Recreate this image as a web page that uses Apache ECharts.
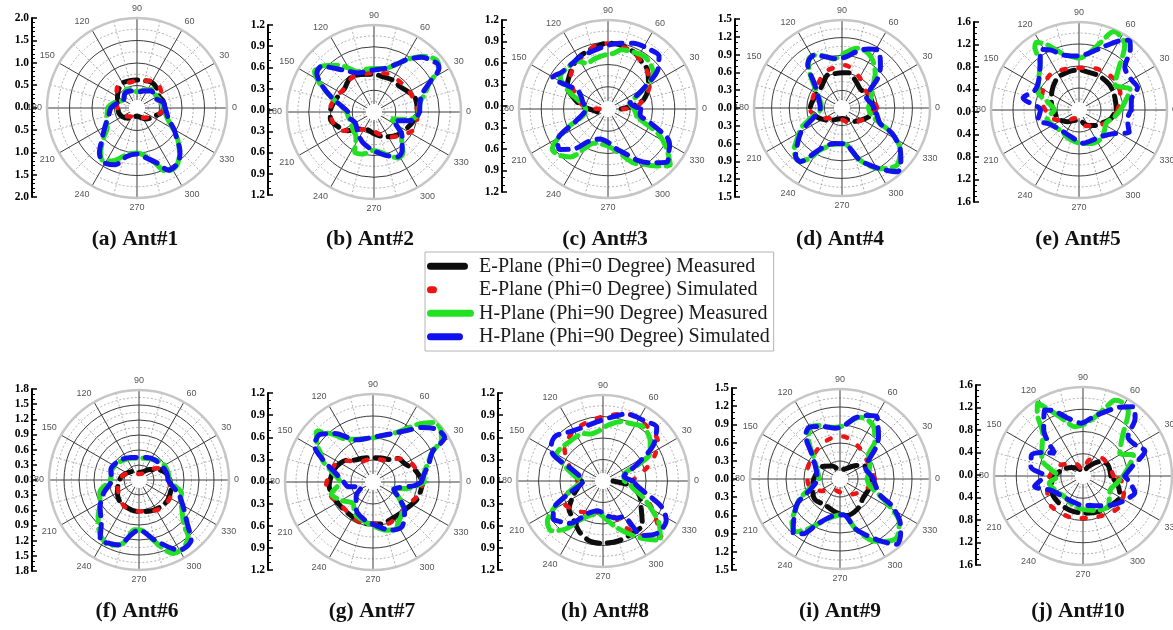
<!DOCTYPE html>
<html>
<head>
<meta charset="utf-8">
<script src="https://cdn.jsdelivr.net/npm/echarts/dist/echarts.min.js"></script>
<style>
  html, body { margin: 0; padding: 0; background: #fff; }
  #chart { width: 1173px; height: 630px; }
</style>
</head>
<body>
<div id="chart"></div>
<script>
// ---- panel captions and radial scales ----
const panelTitles = ['(a) Ant#1', '(b) Ant#2', '(c) Ant#3', '(d) Ant#4', '(e) Ant#5',
                     '(f) Ant#6', '(g) Ant#7', '(h) Ant#8', '(i) Ant#9', '(j) Ant#10'];
const radialMax  = [2.0, 1.2, 1.2, 1.5, 1.6, 1.8, 1.2, 1.2, 1.5, 1.6];
const radialStep = [0.5, 0.3, 0.3, 0.3, 0.4, 0.3, 0.3, 0.3, 0.3, 0.4];
const angleStep = 30;

const seriesNames = [
  'E-Plane (Phi=0 Degree) Measured',
  'E-Plane (Phi=0 Degree) Simulated',
  'H-Plane (Phi=90 Degree) Measured',
  'H-Plane (Phi=90 Degree) Simulated'
];

// ---- radiation patterns: [angle in degrees, gain] ----
const ant1EMeas = [[0,0.62],[15,0.6],[30,0.55],[45,0.62],[60,0.66],[75,0.63],[90,0.62],[105,0.63],[120,0.64],[135,0.58],[150,0.5],[165,0.45],[180,0.42],[195,0.42],[210,0.38],[230,0.3],[250,0.22],[270,0.18],[290,0.22],[310,0.32],[325,0.38],[335,0.42],[345,0.52],[360,0.62]];
const ant1ESim  = [[0,0.6],[20,0.6],[43,0.69],[60,0.7],[90,0.6],[115,0.6],[135,0.63],[155,0.5],[177,0.44],[200,0.38],[230,0.25],[255,0.17],[270,0.15],[300,0.25],[333,0.41],[350,0.55],[360,0.6]];
const ant1HMeas = [[0,0.6],[15,0.55],[35,0.5],[51,0.53],[70,0.42],[90,0.36],[105,0.42],[118,0.48],[135,0.4],[150,0.36],[165,0.5],[180,0.65],[195,0.69],[205,0.75],[214,0.8],[222,1.0],[230,1.25],[236,1.39],[245,1.3],[255,1.1],[262,1.02],[270,1.0],[280,1.08],[287,1.24],[295,1.56],[305,1.55],[315,1.33],[322,1.15],[329,0.95],[342,0.7],[352,0.62],[360,0.6]];
const ant1HSim  = [[0,0.62],[12,0.6],[30,0.45],[50,0.5],[70,0.4],[90,0.35],[110,0.4],[130,0.42],[148,0.35],[165,0.45],[180,0.58],[195,0.65],[210,0.82],[222,1.05],[230,1.3],[238,1.42],[249,1.35],[258,1.1],[270,1.02],[280,1.12],[290,1.3],[297,1.55],[307,1.52],[315,1.35],[323,1.1],[330,0.95],[340,0.75],[352,0.66],[360,0.62]];

const ant2EMeas = [[0,0.6],[18,0.6],[30,0.55],[45,0.5],[59,0.51],[75,0.5],[90,0.52],[110,0.55],[126,0.57],[141,0.52],[160,0.55],[178,0.6],[189,0.61],[200,0.55],[215,0.45],[231,0.3],[250,0.26],[270,0.3],[295,0.38],[315,0.45],[329,0.49],[345,0.55],[360,0.6]];
const ant2ESim  = [[0,0.6],[15,0.58],[32,0.56],[50,0.55],[70,0.56],[90,0.54],[110,0.55],[125,0.56],[141,0.52],[160,0.57],[178,0.61],[195,0.58],[211,0.5],[230,0.32],[255,0.24],[280,0.3],[300,0.4],[320,0.5],[338,0.61],[360,0.6]];
const ant2HMeas = [[0,0.62],[12,0.65],[20,0.75],[28,0.87],[34,1.08],[40,1.12],[49,1.02],[58,0.85],[64,0.74],[76,0.62],[90,0.6],[100,0.6],[112,0.6],[120,0.7],[128,0.82],[138,0.95],[146,0.99],[152,0.85],[161,0.62],[170,0.45],[180,0.38],[191,0.36],[205,0.35],[220,0.38],[234,0.42],[244,0.61],[255,0.6],[269,0.53],[285,0.6],[298,0.72],[306,0.68],[314,0.55],[322,0.48],[330,0.35],[339,0.26],[348,0.5],[355,0.6],[360,0.62]];
const ant2HSim  = [[0,0.63],[12,0.65],[20,0.7],[28,0.87],[34,1.08],[37,1.1],[44,1.05],[49,1.0],[58,0.85],[64,0.74],[76,0.62],[90,0.58],[100,0.57],[112,0.58],[125,0.7],[139,0.96],[146,0.95],[152,0.83],[161,0.62],[170,0.45],[180,0.36],[191,0.36],[210,0.3],[234,0.37],[250,0.45],[269,0.53],[285,0.62],[298,0.7],[306,0.66],[315,0.55],[322,0.48],[335,0.3],[348,0.55],[360,0.63]];

const ant3EMeas = [[0,0.18],[8,0.35],[15,0.5],[30,0.63],[45,0.75],[54,0.78],[65,0.84],[80,0.88],[90,0.89],[100,0.86],[112,0.82],[122,0.79],[137,0.7],[151,0.63],[165,0.45],[175,0.33],[185,0.2],[195,0.15]];
const ant3ESim  = [[0,0.2],[5,0.39],[20,0.55],[32,0.67],[50,0.76],[70,0.85],[95,0.89],[120,0.77],[140,0.66],[160,0.45],[175,0.31],[180,0.08]];
const ant3HMeas = [[346,0.4],[0,0.35],[15,0.3],[25,0.45],[38,0.78],[48,0.84],[56,0.86],[66,0.84],[77,0.82],[85,0.75],[93,0.73],[105,0.7],[115,0.68],[123,0.77],[135,0.78],[146,0.78],[155,0.6],[165,0.4],[180,0.3],[195,0.35],[205,0.6],[216,0.93],[224,0.9],[232,0.82],[240,0.6],[247,0.5],[258,0.48],[270,0.5],[285,0.62],[295,0.8],[303,0.89],[311,1.02],[318,1.13],[326,0.95],[334,0.75],[340,0.5],[346,0.4]];
const ant3HSim  = [[0,0.44],[15,0.31],[28,0.5],[38,0.85],[46,0.99],[55,0.98],[69,0.95],[80,0.9],[90,0.86],[100,0.82],[110,0.8],[118,0.8],[130,0.78],[142,0.8],[150,0.86],[149,0.47],[165,0.35],[180,0.3],[200,0.45],[212,0.8],[220,0.85],[230,0.7],[239,0.51],[255,0.42],[270,0.45],[282,0.55],[293,0.67],[300,0.8],[308,0.92],[318,1.07],[325,1.0],[329,0.97],[334,0.89],[342,0.6],[350,0.44],[360,0.44]];

const ant4EMeas = [[0,0.54],[15,0.52],[30,0.49],[45,0.45],[60,0.5],[79,0.61],[90,0.6],[105,0.6],[115,0.61],[135,0.5],[156,0.5],[180,0.54],[200,0.45],[225,0.3],[250,0.2],[270,0.18],[290,0.2],[310,0.3],[330,0.4],[345,0.5],[360,0.54]];
const ant4ESim  = [[0,0.6],[20,0.55],[37,0.5],[60,0.6],[86,0.73],[100,0.7],[115,0.68],[135,0.58],[156,0.53],[184,0.54],[210,0.35],[238,0.21],[270,0.2],[300,0.3],[326,0.38],[345,0.5],[360,0.6]];
const ant4HMeas = [[0,0.45],[15,0.5],[30,0.6],[38,0.68],[45,0.8],[52,0.9],[60,1.0],[68,1.05],[76,1.05],[86,0.95],[100,0.85],[110,0.95],[118,1.02],[125,1.0],[133,0.8],[145,0.55],[160,0.4],[180,0.35],[195,0.5],[205,0.75],[211,0.86],[222,1.1],[232,1.15],[238,1.0],[242,0.82],[255,0.65],[273,0.61],[289,0.94],[302,1.22],[307,1.29],[314,1.35],[324,1.23],[333,0.96],[338,0.7],[348,0.5],[360,0.45]];
const ant4HSim  = [[0,0.55],[10,0.5],[22,0.45],[32,0.55],[40,0.8],[47,0.96],[53,1.08],[58,1.16],[66,1.1],[75,1.0],[85,0.88],[95,0.84],[108,0.92],[118,1.02],[128,0.95],[140,0.6],[160,0.42],[180,0.37],[198,0.5],[210,0.8],[220,1.0],[226,1.14],[232,1.16],[242,0.79],[258,0.62],[273,0.61],[289,0.94],[302,1.22],[311,1.44],[318,1.35],[324,1.23],[333,0.96],[338,0.7],[350,0.6],[360,0.55]];

const ant5EMeas = [[0,0.68],[10,0.68],[25,0.7],[40,0.72],[60,0.72],[78,0.71],[90,0.73],[105,0.72],[124,0.7],[145,0.6],[165,0.52],[185,0.45],[205,0.4],[225,0.3],[250,0.2],[270,0.18],[295,0.3],[315,0.4],[329,0.47],[345,0.6],[360,0.68]];
const ant5ESim  = [[0,0.7],[15,0.78],[34,0.86],[50,0.84],[65,0.82],[80,0.78],[100,0.77],[115,0.8],[130,0.83],[150,0.75],[167,0.7],[182,0.6],[197,0.52],[220,0.3],[243,0.17],[270,0.2],[295,0.32],[316,0.4],[335,0.55],[358,0.7]];
const ant5HMeas = [[0,0.75],[10,0.85],[22,1.0],[35,0.8],[45,1.0],[55,1.45],[62,1.55],[66,1.56],[72,1.3],[80,1.05],[90,0.94],[100,1.0],[108,1.1],[115,1.29],[122,1.45],[125,1.4],[130,1.1],[140,0.95],[156,0.82],[165,0.6],[180,0.45],[194,0.6],[210,0.55],[230,0.5],[250,0.55],[270,0.6],[290,0.65],[308,0.66],[320,0.6],[335,0.55],[348,0.65],[360,0.75]];
const ant5HSim  = [[0,0.95],[11,0.97],[21,1.14],[30,1.1],[43,1.14],[50,1.45],[54,1.57],[60,1.45],[71,1.19],[80,1.05],[90,0.98],[106,1.04],[115,1.2],[122,1.3],[133,1.04],[145,0.9],[156,0.88],[168,1.04],[180,0.7],[194,0.77],[205,0.6],[225,0.5],[250,0.5],[265,0.55],[277,0.61],[295,0.6],[308,0.62],[325,0.75],[336,1.0],[345,0.92],[352,0.9],[360,0.95]];

const ant6EMeas = [[0,0.62],[15,0.55],[30,0.42],[45,0.3],[60,0.2],[90,0.15],[120,0.2],[150,0.28],[170,0.36],[190,0.42],[210,0.5],[230,0.58],[256,0.62],[272,0.63],[290,0.66],[310,0.69],[325,0.7],[348,0.66],[360,0.62]];
const ant6ESim  = [[0,0.6],[30,0.47],[45,0.3],[60,0.15],[90,0.12],[130,0.2],[170,0.36],[200,0.45],[240,0.6],[272,0.63],[295,0.68],[312,0.72],[335,0.7],[360,0.6]];
const ant6HMeas = [[0,0.6],[15,0.6],[35,0.58],[55,0.5],[75,0.45],[88,0.43],[105,0.45],[125,0.5],[145,0.55],[160,0.58],[180,0.57],[197,0.82],[210,0.9],[222,1.1],[235,1.35],[246,1.43],[256,1.3],[265,1.0],[272,1.0],[282,1.2],[295,1.62],[303,1.62],[311,1.5],[315,1.27],[325,1.05],[335,0.92],[343,0.89],[352,0.7],[360,0.6]];
const ant6HSim  = [[0,0.58],[7,0.58],[25,0.55],[52,0.51],[70,0.48],[90,0.45],[110,0.48],[135,0.55],[160,0.6],[180,0.55],[200,0.75],[215,0.95],[229,1.15],[237,1.43],[245,1.4],[253,1.36],[262,1.1],[270,1.0],[285,1.25],[300,1.62],[311,1.59],[318,1.3],[328,1.05],[340,0.85],[352,0.65],[360,0.58]];

const ant7EMeas = [[0,0.68],[15,0.6],[30,0.5],[43,0.47],[56,0.37],[70,0.35],[90,0.33],[110,0.35],[130,0.39],[141,0.47],[160,0.55],[185,0.6],[200,0.58],[220,0.55],[240,0.55],[259,0.58],[280,0.58],[302,0.56],[320,0.58],[340,0.65],[360,0.68]];
const ant7ESim  = [[0,0.68],[15,0.62],[32,0.56],[45,0.45],[62,0.34],[90,0.32],[124,0.33],[140,0.45],[153,0.56],[170,0.6],[184,0.64],[200,0.6],[216,0.54],[240,0.55],[259,0.58],[288,0.6],[305,0.58],[325,0.56],[345,0.65],[360,0.68]];
const ant7HMeas = [[0,0.7],[8,0.7],[18,0.78],[27,0.91],[32,1.1],[38,1.17],[44,1.17],[52,1.0],[60,0.82],[69,0.7],[80,0.64],[90,0.6],[99,0.6],[110,0.62],[123,0.7],[130,0.85],[138,1.04],[146,0.92],[152,0.8],[157,0.75],[168,0.55],[180,0.45],[196,0.59],[210,0.5],[227,0.4],[240,0.5],[258,0.55],[270,0.6],[285,0.68],[295,0.72],[302,0.65],[310,0.6],[318,0.55],[330,0.4],[340,0.27],[350,0.5],[360,0.7]];
const ant7HSim  = [[0,0.66],[8,0.7],[18,0.8],[27,0.91],[32,1.15],[40,1.12],[48,1.0],[56,0.85],[65,0.74],[76,0.66],[90,0.61],[99,0.6],[112,0.62],[128,0.84],[138,0.97],[148,0.94],[156,0.75],[165,0.55],[180,0.4],[190,0.35],[205,0.17],[220,0.3],[240,0.45],[258,0.53],[275,0.6],[290,0.7],[302,0.73],[310,0.66],[318,0.58],[328,0.42],[340,0.3],[355,0.57],[360,0.66]];

const ant8EMeas = [[180,0.3],[190,0.33],[205,0.45],[220,0.62],[230,0.66],[245,0.78],[258,0.86],[270,0.87],[285,0.86],[300,0.84],[312,0.82],[325,0.65],[338,0.55],[350,0.4],[360,0.14]];
const ant8ESim  = [[0,0.4],[20,0.7],[35,0.94],[50,0.98],[71,0.99],[90,0.9],[117,0.82],[140,0.7],[165,0.45],[185,0.35],[205,0.64],[230,0.55],[260,0.45],[284,0.49],[301,0.86],[316,1.13],[330,0.8],[345,0.55],[360,0.4]];
const ant8HMeas = [[0,0.3],[15,0.3],[25,0.55],[30,0.75],[40,0.86],[53,0.94],[62,0.9],[74,0.86],[85,0.78],[95,0.7],[105,0.68],[113,0.72],[122,0.72],[130,0.72],[140,0.74],[150,0.75],[160,0.55],[170,0.4],[180,0.3],[195,0.45],[208,0.75],[216,0.96],[224,1.0],[232,0.85],[240,0.62],[251,0.5],[262,0.46],[273,0.52],[285,0.66],[296,0.82],[305,0.98],[314,1.15],[322,1.0],[330,0.78],[338,0.6],[345,0.45],[352,0.38],[360,0.3]];
const ant8HSim  = [[0,0.42],[12,0.3],[25,0.5],[35,0.85],[45,1.06],[55,1.02],[71,0.99],[82,0.9],[96,0.83],[110,0.8],[122,0.82],[136,0.91],[145,0.88],[152,0.79],[160,0.45],[172,0.3],[180,0.28],[200,0.5],[210,0.8],[217,0.87],[226,0.8],[232,0.75],[245,0.5],[260,0.42],[275,0.48],[290,0.55],[299,0.57],[306,0.94],[316,1.05],[328,1.04],[336,0.9],[345,0.6],[352,0.48],[360,0.42]];

const ant9EMeas = [[0,0.5],[15,0.48],[27,0.47],[40,0.35],[60,0.2],[90,0.15],[120,0.25],[149,0.39],[165,0.4],[185,0.45],[205,0.5],[220,0.54],[240,0.5],[260,0.55],[280,0.62],[300,0.58],[320,0.5],[347,0.51],[360,0.5]];
const ant9ESim  = [[0,0.58],[20,0.55],[40,0.55],[60,0.62],[86,0.71],[100,0.7],[115,0.66],[135,0.6],[158,0.57],[175,0.55],[194,0.52],[215,0.35],[238,0.21],[270,0.22],[300,0.3],[323,0.38],[345,0.5],[360,0.58]];
const ant9HMeas = [[0,0.45],[15,0.5],[30,0.58],[40,0.62],[47,0.85],[55,1.0],[63,1.08],[72,1.08],[82,0.95],[92,0.86],[105,0.9],[113,0.97],[120,0.99],[128,0.85],[140,0.58],[160,0.4],[180,0.35],[197,0.52],[206,0.75],[212,0.85],[222,1.08],[230,1.15],[237,1.0],[243,0.85],[258,0.65],[275,0.6],[288,0.89],[300,1.2],[307,1.3],[314,1.36],[324,1.22],[331,0.95],[338,0.7],[348,0.5],[360,0.45]];
const ant9HSim  = [[0,0.56],[10,0.5],[22,0.46],[32,0.55],[42,0.82],[48,0.96],[55,1.1],[60,1.21],[68,1.14],[76,1.05],[85,0.9],[95,0.85],[108,0.92],[120,1.0],[128,0.93],[140,0.6],[160,0.42],[180,0.38],[198,0.5],[210,0.82],[221,1.02],[229,1.19],[236,1.1],[243,0.85],[260,0.62],[275,0.6],[288,0.89],[303,1.23],[311,1.44],[318,1.36],[324,1.24],[333,0.96],[338,0.72],[350,0.6],[360,0.56]];

const ant10EMeas = [[0,0.5],[24,0.49],[40,0.4],[60,0.2],[90,0.08],[120,0.15],[144,0.26],[165,0.4],[185,0.55],[204,0.62],[225,0.65],[250,0.66],[273,0.67],[295,0.7],[315,0.73],[331,0.76],[345,0.65],[360,0.5]];
const ant10ESim  = [[0,0.55],[20,0.5],[44,0.46],[70,0.3],[90,0.1],[120,0.25],[155,0.46],[180,0.6],[204,0.7],[224,0.79],[261,0.77],[290,0.78],[320,0.86],[348,0.76],[360,0.55]];
const ant10HMeas = [[0,0.72],[10,0.82],[22,0.98],[32,0.78],[45,1.0],[55,1.42],[62,1.5],[67,1.48],[72,1.28],[80,1.05],[90,0.92],[100,0.9],[108,1.05],[116,1.3],[122,1.54],[126,1.4],[134,1.04],[145,0.9],[158,0.8],[168,0.6],[180,0.45],[192,0.62],[210,0.55],[230,0.5],[250,0.55],[270,0.6],[290,0.66],[309,0.71],[320,0.62],[335,0.55],[348,0.62],[360,0.72]];
const ant10HSim  = [[0,0.75],[11,0.9],[22,1.2],[30,1.1],[41,1.07],[48,1.4],[54,1.54],[62,1.4],[74,1.17],[82,1.05],[92,0.95],[106,1.1],[114,1.28],[120,1.37],[130,1.1],[141,0.65],[150,0.85],[158,1.0],[170,0.95],[180,0.7],[192,0.89],[205,0.62],[225,0.52],[250,0.5],[270,0.53],[285,0.55],[300,0.62],[320,0.78],[335,0.92],[342,0.98],[352,0.85],[360,0.75]];

const antennaData = [
  [ant1EMeas, ant1ESim, ant1HMeas, ant1HSim],
  [ant2EMeas, ant2ESim, ant2HMeas, ant2HSim],
  [ant3EMeas, ant3ESim, ant3HMeas, ant3HSim],
  [ant4EMeas, ant4ESim, ant4HMeas, ant4HSim],
  [ant5EMeas, ant5ESim, ant5HMeas, ant5HSim],
  [ant6EMeas, ant6ESim, ant6HMeas, ant6HSim],
  [ant7EMeas, ant7ESim, ant7HMeas, ant7HSim],
  [ant8EMeas, ant8ESim, ant8HMeas, ant8HSim],
  [ant9EMeas, ant9ESim, ant9HMeas, ant9HSim],
  [ant10EMeas, ant10ESim, ant10HMeas, ant10HSim]
];

// ---- page layout (pixels): polar centre/radius, side scale, caption ----
const panelLayout = [
  { cx: 137,  cy: 108, r: 90, ax: 32,  top: 18,  bottom: 197, tx: 135,  ty: 228 },
  { cx: 374,  cy: 112, r: 87, ax: 268, top: 25,  bottom: 195, tx: 370,  ty: 228 },
  { cx: 608,  cy: 109, r: 89, ax: 502, top: 20,  bottom: 192, tx: 605,  ty: 228 },
  { cx: 842,  cy: 108, r: 88, ax: 735, top: 19,  bottom: 197, tx: 840,  ty: 228 },
  { cx: 1079, cy: 110, r: 88, ax: 974, top: 22,  bottom: 202, tx: 1078, ty: 228 },
  { cx: 139,  cy: 480, r: 90, ax: 32,  top: 389, bottom: 571, tx: 137,  ty: 600 },
  { cx: 373,  cy: 482, r: 88, ax: 268, top: 393, bottom: 570, tx: 372,  ty: 600 },
  { cx: 603,  cy: 481, r: 86, ax: 498, top: 393, bottom: 570, tx: 605,  ty: 600 },
  { cx: 840,  cy: 479, r: 90, ax: 732, top: 388, bottom: 570, tx: 840,  ty: 600 },
  { cx: 1083, cy: 476, r: 89, ax: 976, top: 385, bottom: 565, tx: 1078, ty: 600 }
];

const seriesColors = ['#0d0d0d', '#ee1414', '#22e022', '#1212ee'];
const seriesWidths = [5, 4.5, 5, 5];
const seriesDashes = [[14, 8], [4, 13], [16, 7], [13, 9]];
const legendIconLen = [41, 10, 47, 36];

const gridDark = '#3c3c3c';
const gridLight = '#c6c6c6';
const gridDash = '#9c9c9c';

function capsuleIcon(len) {
  const h = 7, rr = 3.5;
  return 'path://M' + rr + ',0H' + (len - rr) + 'A' + rr + ',' + rr + ',0,0,1,' + (len - rr) + ',' + h +
         'H' + rr + 'A' + rr + ',' + rr + ',0,0,1,' + rr + ',0ZM47,0L47,7';
}

const polar = [], angleAxis = [], radiusAxis = [];
const grid = [], xAxis = [], yAxis = [];
const title = [], series = [], graphic = [];

panelLayout.forEach((L, i) => {
  const max = radialMax[i];
  const step = radialStep[i];
  const ringCount = Math.round(max / step) + 1;
  const ringColors = [];
  for (let k = 0; k < ringCount; k++) ringColors.push(k === ringCount - 1 ? gridLight : gridDark);

  polar.push({ center: [L.cx, L.cy], radius: [0, L.r] });

  angleAxis.push({
    polarIndex: i, type: 'value', min: 0, max: 360, interval: angleStep,
    startAngle: 0, clockwise: false,
    axisLine: { show: true, lineStyle: { color: gridLight, width: 2.5 } },
    axisTick: { show: false },
    axisLabel: {
      margin: 5, color: '#555', fontSize: 9, fontFamily: 'Liberation Sans',
      formatter: v => (v >= 360 ? '' : String(v))
    },
    splitLine: { show: true, lineStyle: { color: gridDark, width: 1 } },
    minorTick: { show: false, splitNumber: 2 },
    minorSplitLine: { show: true, lineStyle: { color: gridDash, width: 0.8, type: [2, 2] } }
  });

  radiusAxis.push({
    polarIndex: i, type: 'value', min: 0, max: max, interval: step,
    axisLine: { show: false }, axisTick: { show: false }, axisLabel: { show: false },
    splitLine: { show: true, lineStyle: { color: ringColors, width: 1 } },
    minorTick: { show: false, splitNumber: 2 },
    minorSplitLine: { show: true, lineStyle: { color: gridDash, width: 0.8, type: [2, 2] } }
  });

  // side scale showing the radial gain
  grid.push({
    left: L.ax, top: L.top, width: 2, height: L.bottom - L.top,
    containLabel: false, outerBoundsMode: 'none'
  });
  xAxis.push({ gridIndex: i, type: 'value', show: false, min: 0, max: 1 });
  yAxis.push({
    gridIndex: i, type: 'value', min: -max, max: max, interval: step, position: 'left',
    axisLine: { show: true, onZero: false, lineStyle: { color: '#000', width: 2 } },
    axisTick: { show: true, inside: true, length: 5, lineStyle: { color: '#000', width: 1.5 } },
    minorTick: { show: true, splitNumber: Math.round(step / 0.1), length: 3, lineStyle: { color: '#000', width: 1 } },
    splitLine: { show: false },
    axisLabel: {
      margin: 3, color: '#000', fontSize: 11.5, fontWeight: 'bold', fontFamily: 'Liberation Serif',
      showMinLabel: true, showMaxLabel: true, hideOverlap: false,
      formatter: v => Math.abs(v).toFixed(1)
    }
  });

  title.push({
    text: panelTitles[i], left: L.tx, top: L.ty, textAlign: 'center', padding: 0,
    textStyle: { fontFamily: 'Liberation Serif', fontWeight: 'bold', fontSize: 21.5, color: '#111' }
  });

  // small clear disc in the middle of each polar plot
  graphic.push({
    type: 'circle', shape: { cx: L.cx, cy: L.cy, r: 8 },
    style: { fill: '#fff' }, z: 1, silent: true
  });

  antennaData[i].forEach((pts, k) => {
    series.push({
      type: 'line', coordinateSystem: 'polar', polarIndex: i,
      name: seriesNames[k],
      data: pts.map(p => [p[1], p[0]]),
      showSymbol: false, symbol: 'none', smooth: 0.3,
      z: 3 + k, silent: true,
      itemStyle: { color: seriesColors[k] },
      lineStyle: { color: seriesColors[k], width: seriesWidths[k], type: seriesDashes[k], cap: 'round' }
    });
  });
});

const chart = echarts.init(document.getElementById('chart'), null, { renderer: 'canvas' });
chart.setOption({
  backgroundColor: '#fff',
  animation: false,
  title, polar, angleAxis, radiusAxis, grid, xAxis, yAxis, graphic,
  legend: {
    left: 425, top: 252, orient: 'vertical',
    itemWidth: 47, itemHeight: 7, itemGap: 3,
    padding: [4, 4, 4, 2],
    borderColor: '#b4b4b4', borderWidth: 1,
    selectedMode: false,
    itemStyle: { borderWidth: 0 },
    textStyle: { fontFamily: 'Liberation Serif', fontSize: 20, color: '#1a1a1a', lineHeight: 20.5 },
    data: seriesNames.map((n, k) => ({ name: n, icon: capsuleIcon(legendIconLen[k]) }))
  },
  series
});
</script>
</body>
</html>
